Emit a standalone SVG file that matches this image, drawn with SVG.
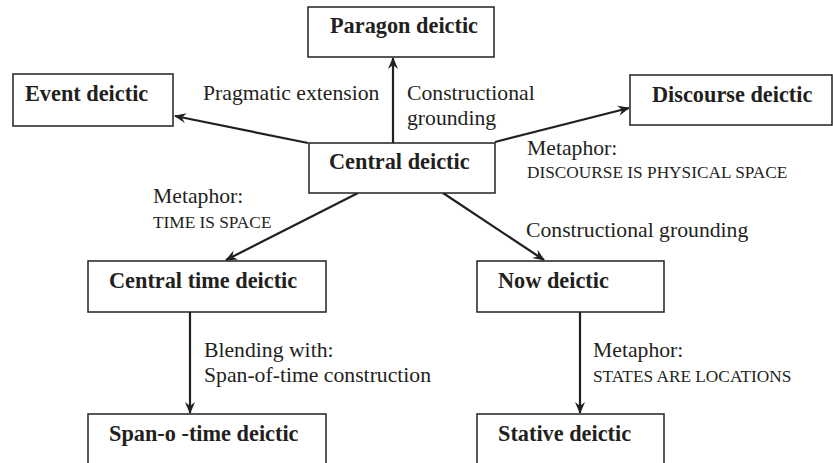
<svg xmlns="http://www.w3.org/2000/svg" width="833" height="463" viewBox="0 0 833 463">
<defs>
<style>
.box{fill:#fff;stroke:#231f20;stroke-width:1.5}
.nt{font-family:"Liberation Serif",serif;font-weight:bold;font-size:22.3px;fill:#231f20}
.lb{font-family:"Liberation Serif",serif;font-size:21.7px;fill:#231f20}
.sc{font-family:"Liberation Serif",serif;font-size:17.3px;fill:#231f20}
.edge{stroke:#231f20;stroke-width:2.2;fill:none;marker-end:url(#ah)}
</style>
<marker id="ah" viewBox="0 0 12 10" refX="11" refY="5" markerWidth="12" markerHeight="10" markerUnits="userSpaceOnUse" orient="auto" overflow="visible">
<path d="M0,0 L12,5 L0,10 L4,5 z" fill="#231f20"/>
</marker>
</defs>
<rect width="833" height="463" fill="#fff"/>
<g id="connectors">
<line class="edge" x1="393" y1="143" x2="393" y2="58"/>
<line class="edge" x1="308" y1="143" x2="175" y2="116"/>
<line class="edge" x1="495" y1="142" x2="629" y2="108"/>
<line class="edge" x1="358" y1="193" x2="226" y2="260"/>
<line class="edge" x1="443" y1="193" x2="544" y2="260"/>
<line class="edge" x1="190" y1="312" x2="190" y2="413"/>
<line class="edge" x1="580" y1="312" x2="580" y2="413"/>
</g>
<g id="labels">
<text class="lb" x="203" y="100">Pragmatic extension</text>
<text class="lb" x="407" y="100">Constructional</text>
<text class="lb" x="407" y="125">grounding</text>
<text class="lb" x="527" y="155">Metaphor:</text>
<text class="sc" x="527" y="178">DISCOURSE IS PHYSICAL SPACE</text>
<text class="lb" x="153" y="203">Metaphor:</text>
<text class="sc" x="153" y="228">TIME IS SPACE</text>
<text class="lb" x="526" y="237">Constructional grounding</text>
<text class="lb" x="204" y="357">Blending with:</text>
<text class="lb" x="204" y="382">Span-of-time construction</text>
<text class="lb" x="593" y="357">Metaphor:</text>
<text class="sc" x="593" y="382">STATES ARE LOCATIONS</text>
</g>
<g id="paragon"><rect class="box" x="308" y="7" width="186" height="50"/><text class="nt" x="330" y="33">Paragon deictic</text></g>
<g id="event"><rect class="box" x="13" y="74" width="160" height="52"/><text class="nt" x="25" y="101">Event deictic</text></g>
<g id="discourse"><rect class="box" x="630" y="75" width="202" height="50"/><text class="nt" x="652" y="102">Discourse deictic</text></g>
<g id="central"><rect class="box" x="309" y="143" width="186" height="50"/><text class="nt" x="329" y="169">Central deictic</text></g>
<g id="central-time"><rect class="box" x="88" y="261" width="238" height="51"/><text class="nt" x="109" y="288">Central time deictic</text></g>
<g id="now"><rect class="box" x="477" y="261" width="187" height="51"/><text class="nt" x="498" y="288">Now deictic</text></g>
<g id="span"><rect class="box" x="88" y="414" width="238" height="60"/><text class="nt" x="109" y="441">Span-o -time deictic</text></g>
<g id="stative"><rect class="box" x="477" y="414" width="187" height="60"/><text class="nt" x="498" y="441">Stative deictic</text></g>
</svg>
